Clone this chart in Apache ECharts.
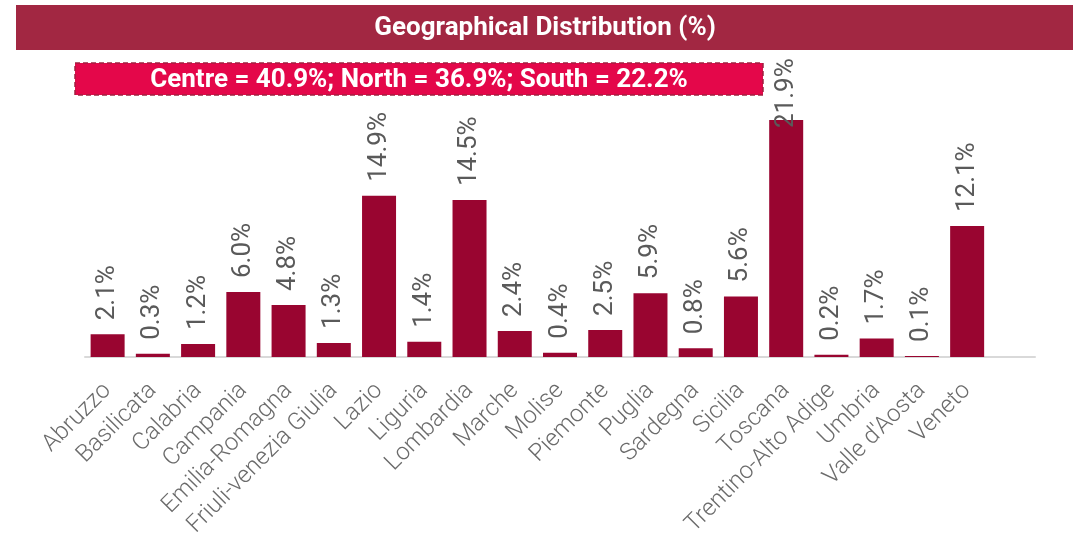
<!DOCTYPE html>
<html>
<head>
<meta charset="utf-8">
<script src="https://cdn.jsdelivr.net/npm/echarts@6/dist/echarts.min.js"></script>
<style>
  html, body { margin: 0; padding: 0; background: #fff; }
  #chart { width: 1084px; height: 542px; }
</style>
</head>
<body>
<div id="chart"></div>
<script>
// regions, plus one empty slot at the end as in the original
const regions = ['Abruzzo', 'Basilicata', 'Calabria', 'Campania', 'Emilia-Romagna', 'Friuli-venezia Giulia',
  'Lazio', 'Liguria', 'Lombardia', 'Marche', 'Molise', 'Piemonte', 'Puglia', 'Sardegna', 'Sicilia',
  'Toscana', 'Trentino-Alto Adige', 'Umbria', "Valle d'Aosta", 'Veneto', ''];
const shares = [2.1, 0.3, 1.2, 6.0, 4.8, 1.3, 14.9, 1.4, 14.5, 2.4, 0.4, 2.5, 5.9, 0.8, 5.6, 21.9, 0.2, 1.7, 0.1, 12.1];
const titleText = 'Geographical Distribution (%)';
const summaryText = 'Centre = 40.9%; North = 36.9%; South = 22.2%';

const myChart = echarts.init(document.getElementById('chart'));

// the tallest bar's label is pushed down into the bar, like in the original
const maxShare = Math.max(...shares);
const barData = shares.map(v => v === maxShare ? { value: v, label: { distance: -8 } } : v);

const option = {
  animation: false,
  textStyle: { fontFamily: 'Roboto' },
  graphic: [
    {
      type: 'rect',
      shape: { x: 16, y: 5, width: 1057, height: 45 },
      style: { fill: '#a22742' }
    },
    {
      type: 'text',
      x: 545, y: 28,
      style: {
        text: titleText, fill: '#fff', font: 'bold 26px Roboto',
        align: 'center', verticalAlign: 'middle'
      }
    },
    {
      type: 'rect',
      shape: { x: 75, y: 63, width: 688, height: 32 },
      style: { fill: '#e4074a', stroke: '#a02040', lineWidth: 1.5, lineDash: [5, 3] }
    },
    {
      type: 'text',
      x: 419, y: 80,
      style: {
        text: summaryText, fill: '#fff', font: 'bold 26px Roboto',
        align: 'center', verticalAlign: 'middle'
      }
    }
  ],
  grid: { left: 85, right: 49, top: 86.5, bottom: 185 },
  xAxis: {
    type: 'category',
    data: regions,
    axisLine: { lineStyle: { color: '#d9d9d9', width: 2 } },
    axisTick: { show: false },
    axisLabel: {
      interval: 0,
      rotate: 45,
      color: '#6b6b6b',
      fontSize: 24,
      fontWeight: 300,
      margin: 30
    }
  },
  yAxis: {
    type: 'value',
    min: 0,
    max: 25,
    show: false,
    splitLine: { show: false }
  },
  series: [{
    type: 'bar',
    data: barData,
    barWidth: 34,
    itemStyle: { color: '#990530' },
    label: {
      show: true,
      position: 'top',
      rotate: 90,
      align: 'left',
      verticalAlign: 'middle',
      distance: 14,
      color: '#5a5a5a',
      fontSize: 26,
      formatter: p => p.value.toFixed(1) + '%'
    }
  }]
};

myChart.setOption(option);
window.addEventListener('resize', myChart.resize);
</script>
</body>
</html>
